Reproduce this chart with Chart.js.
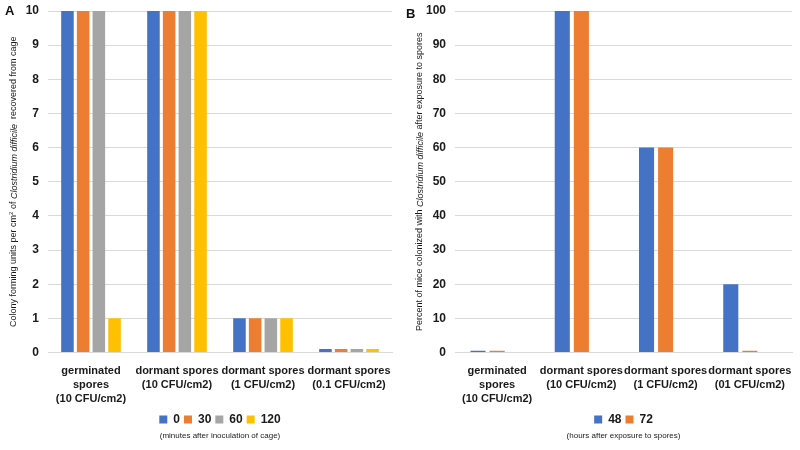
<!DOCTYPE html>
<html>
<head>
<meta charset="utf-8">
<script src="https://cdn.jsdelivr.net/npm/chart.js@4/dist/chart.umd.min.js"></script>
<style>
  body{margin:0;background:#fff;font-family:"Liberation Sans",Arial,sans-serif;}
  #wrap{position:relative;width:800px;height:450px;}
  .box{position:absolute;top:0;width:400px;height:450px;}
  .tag{position:absolute;font-weight:bold;font-size:13px;color:#111;}
</style>
</head>
<body>
<div id="wrap">
  <div class="box" style="left:0"><canvas id="chartA" width="400" height="450"></canvas></div>
  <div class="box" style="left:400px"><canvas id="chartB" width="400" height="450"></canvas></div>
  <div class="tag" style="left:5px;top:3px">A</div>
  <div class="tag" style="left:406px;top:6px">B</div>
</div>
<script>
// ---- data, panel A ----
var labelsA = [["germinated","spores","(10 CFU/cm2)"],["dormant spores","(10 CFU/cm2)"],["dormant spores","(1 CFU/cm2)"],["dormant spores","(0.1 CFU/cm2)"]];
var seriesNamesA = ["0","30","60","120"];
var min0   = [10, 10, 1, 0.1];
var min30  = [10, 10, 1, 0.1];
var min60  = [10, 10, 1, 0.1];
var min120 = [1, 10, 1, 0.1];
var yTicksA = [0,1,2,3,4,5,6,7,8,9,10];

// ---- data, panel B ----
var labelsB = [["germinated","spores","(10 CFU/cm2)"],["dormant spores","(10 CFU/cm2)"],["dormant spores","(1 CFU/cm2)"],["dormant spores","(01 CFU/cm2)"]];
var seriesNamesB = ["48","72"];
var hrs48 = [0.5, 100, 60, 20];
var hrs72 = [0.5, 100, 60, 0.5];
var yTicksB = [0,10,20,30,40,50,60,70,80,90,100];

var colors = ["#4472C4","#ED7D31","#A5A5A5","#FFC000"];
var txt = "#1a1a1a";
var gridCol = "#d9d9d9";
var fam = "'Liberation Sans', Arial, sans-serif";

// draws a rotated axis title made of parts (regular / italic / superscript)
function axisTitle(parts, x){
  return {
    id:"axisTitle",
    afterDraw:function(chart){
      var ctx = chart.ctx, a = chart.chartArea;
      var y = (a.top + a.bottom)/2;
      ctx.save();
      var total = 0;
      parts.forEach(function(p){
        ctx.font = (p.it ? "italic " : "") + (p.sup ? "6px " : "9px ") + fam;
        p.w = ctx.measureText(p.t).width;
        total += p.w;
      });
      ctx.translate(x, y);
      ctx.rotate(-Math.PI/2);
      ctx.fillStyle = txt;
      ctx.textBaseline = "middle";
      var cx = -total/2;
      parts.forEach(function(p){
        ctx.font = (p.it ? "italic " : "") + (p.sup ? "6px " : "9px ") + fam;
        ctx.fillText(p.t, cx, p.sup ? -3 : 0);
        cx += p.w;
      });
      ctx.restore();
    }
  };
}

function baseOptions(yMax, yWidth, ticks, note){
  return {
    responsive:false,
    animation:false,
    layout:{padding:{top:11,right:8,bottom:0,left:0}},
    plugins:{
      legend:{
        position:"bottom", fullSize:false,
        labels:{
          boxWidth:8, boxHeight:8, color:txt, padding:4,
          font:{family:fam, size:12, weight:"bold"},
          filter:function(item){ return item.text !== ""; }
        }
      },
      subtitle:{
        display:true, position:"bottom", fullSize:false, text:note, color:txt,
        font:{family:fam, size:8},
        padding:{top:-4,bottom:9}
      },
      tooltip:{enabled:false}
    },
    scales:{
      x:{
        grid:{display:false},
        border:{color:gridCol},
        ticks:{
          color:txt, maxRotation:0, minRotation:0, autoSkip:false, padding:3,
          font:{family:fam, size:11, weight:"bold", lineHeight:1.3}
        }
      },
      y:{
        min:0, max:yMax,
        afterBuildTicks:function(s){ s.ticks = ticks.map(function(v){ return {value:v}; }); },
        afterFit:function(s){ s.width = yWidth; s.paddingTop = 0; s.paddingBottom = 0; },
        grid:{color:gridCol, drawTicks:false},
        border:{display:false},
        ticks:{
          color:txt, padding:9,
          font:{family:fam, size:12, weight:"bold"}
        }
      }
    }
  };
}

new Chart(document.getElementById("chartA"), {
  type:"bar",
  data:{
    labels:labelsA,
    datasets:[min0, min30, min60, min120].map(function(d, i){
      return {label:seriesNamesA[i], data:d, backgroundColor:colors[i],
              categoryPercentage:0.73, barPercentage:0.8};
    })
  },
  options:baseOptions(10, 48, yTicksA, "(minutes after inoculation of cage)"),
  plugins:[axisTitle([
    {t:"Colony forming units per cm"},{t:"2",sup:true},{t:" of "},
    {t:"Clostridium difficile",it:true},{t:"  recovered from cage"}], 14)]
});

new Chart(document.getElementById("chartB"), {
  type:"bar",
  data:{
    labels:labelsB,
    datasets:[
      {label:seriesNamesB[0], data:hrs48, backgroundColor:colors[0], categoryPercentage:0.68, barPercentage:0.79},
      {label:seriesNamesB[1], data:hrs72, backgroundColor:colors[1], categoryPercentage:0.68, barPercentage:0.79},
      {label:"", data:[null,null,null,null], backgroundColor:"rgba(0,0,0,0)", categoryPercentage:0.68, barPercentage:0.79}
    ]
  },
  options:baseOptions(100, 55, yTicksB, "(hours after exposure to spores)"),
  plugins:[axisTitle([
    {t:"Percent of mice colonized with "},{t:"Clostridium difficile",it:true},
    {t:" after exposure to spores"}], 20)]
});
</script>
</body>
</html>
